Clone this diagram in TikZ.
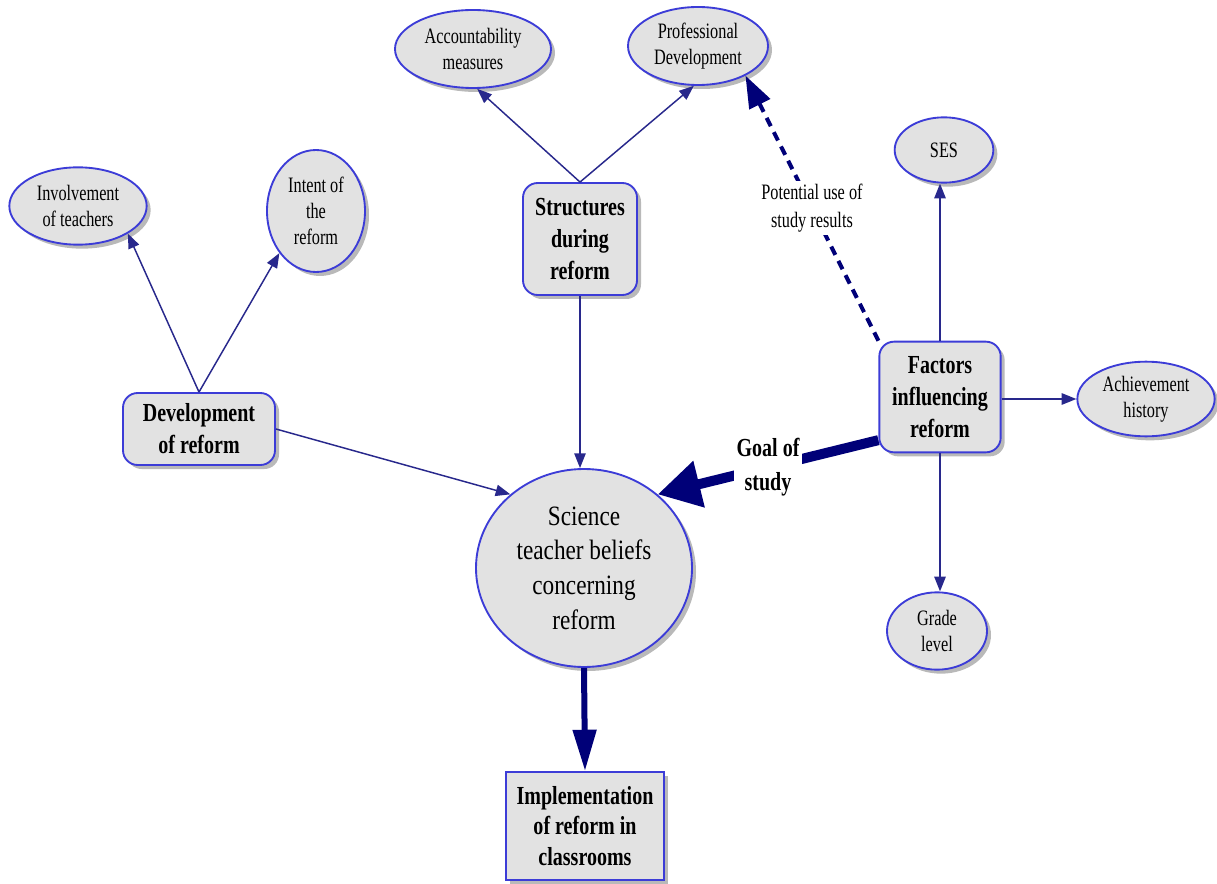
\documentclass[tikz,border=0pt]{standalone}
\usepackage{fontspec}
\setmainfont{Liberation Serif}
\newfontfamily\fsm[FakeStretch=0.74]{Liberation Serif}
\newfontfamily\fbx[FakeStretch=0.77]{Liberation Serif}
\newfontfamily\fci[FakeStretch=0.83]{Liberation Serif}
\usetikzlibrary{shapes.geometric,shadows,arrows.meta}
\definecolor{nfill}{RGB}{226,226,226}
\definecolor{nborder}{RGB}{60,60,215}
\definecolor{navy}{RGB}{0,0,120}
\definecolor{tline}{RGB}{40,40,140}
\tikzset{
  base/.style={fill=nfill, draw=nborder, line width=1.4pt, inner sep=0pt, align=center,
    drop shadow={shadow xshift=3pt,shadow yshift=-3pt,fill=black!50,opacity=0.55}},
  oval/.style={base, ellipse, font=\fsm\fontsize{16.5}{19.5}\selectfont},
  rbox/.style={base, rounded corners=11pt, font=\fbx\bfseries\fontsize{19.5}{24}\selectfont},
  sbox/.style={base, font=\fbx\bfseries\fontsize{19.5}{23}\selectfont},
  circ/.style={base, ellipse, font=\fci\fontsize{21}{26}\selectfont},
  thin/.style={draw=tline, line width=1.1pt, -{Triangle[length=11pt,width=8.5pt]}},
  lbl/.style={fill=white, inner sep=2pt, align=center},
}
\begin{document}
\begin{tikzpicture}[x=0.75pt,y=-0.75pt]
\useasboundingbox[fill=white] (0,0) rectangle (1217,884);
% nodes
\node[oval, minimum width=117pt, minimum height=58.5pt] (acc) at (473,49) {Accountability\\measures};
\node[oval, minimum width=105pt, minimum height=58.5pt] (prof) at (698,46) {Professional\\Development};
\node[oval, minimum width=103pt, minimum height=58pt] (inv) at (78,206) {Involvement\\of teachers};
\node[oval, minimum width=73.5pt, minimum height=91.5pt] (intent) at (316,211) {Intent of\\the\\reform};
\node[rbox, minimum width=85.5pt, minimum height=84pt] (struct) at (580,239) {Structures\\during\\reform};
\node[rbox, minimum width=114pt, minimum height=54pt] (dev) at (199,429) {Development\\of reform};
\node[rbox, minimum width=91pt, minimum height=83pt] (fac) at (940,397) {Factors\\influencing\\reform};
\node[circ, minimum width=162pt, minimum height=148.5pt] (sci) at (584,568) {Science\\teacher beliefs\\concerning\\reform};
\node[sbox, minimum width=118pt, minimum height=81pt] (impl) at (585,826) {Implementation\\of reform in\\classrooms};
\node[oval, minimum width=74pt, minimum height=49pt] (ses) at (944,150) {SES};
\node[oval, minimum width=75pt, minimum height=58pt] (grade) at (937,631) {Grade\\level};
\node[oval, minimum width=103pt, minimum height=56pt] (ach) at (1146,399) {Achievement\\history};
% thin connectors
\draw[thin] (dev.north) -- (inv.-29);
\draw[thin] (dev.north) -- (intent.-131);
\draw[thin] (struct.north) -- (acc.-84);
\draw[thin] (struct.north) -- (prof.-96);
\draw[thin] (struct.south) -- (struct.south |- sci.north);
\draw[thin] (dev.east) -- (sci.135);
\draw[thin] (fac.north) -- (fac.north |- ses.south);
\draw[thin] (fac.south) -- (fac.south |- grade.north);
\draw[thin] (fac.east |- ach.west) -- (ach.west);
% dashed potential use
\draw[draw=navy, line width=3pt, dash pattern=on 7pt off 5pt,
      -{Triangle[length=24pt,width=17pt]}]
  (fac.north west) -- node[lbl, font=\fsm\fontsize{16.5}{21}\selectfont] {Potential use of\\study results} (prof.-32);
% goal of study
\draw[draw=navy, line width=7.5pt, -{Triangle[length=32pt,width=34pt]}]
  (fac.215) -- node[lbl, font=\fbx\bfseries\fontsize{19.5}{25}\selectfont] {Goal of\\study} (sci.45);
% science to implementation
\draw[draw=navy, line width=4.5pt, -{Triangle[length=31pt,width=17pt]}]
  (sci.south) -- (impl.north);
\end{tikzpicture}
\end{document}
